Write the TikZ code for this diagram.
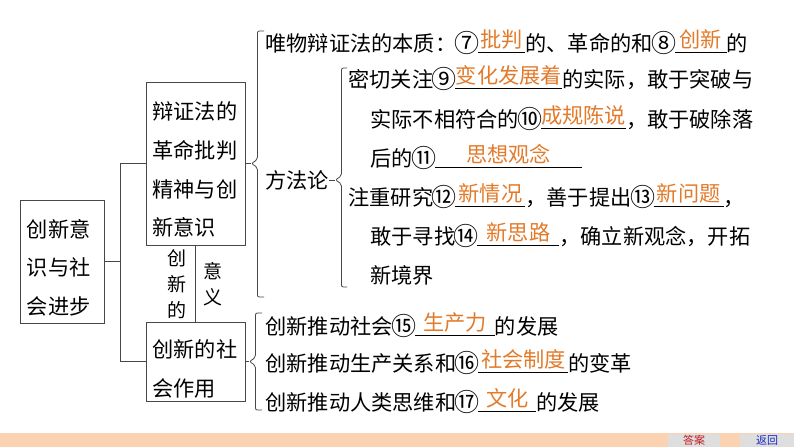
\documentclass[tikz,border=0pt]{standalone}
\usepackage{fontspec}
\setmainfont{Noto Sans CJK SC}
\usepackage{xcolor}
\definecolor{colorAnswer}{RGB}{226,122,42}
\colorlet{colorLine}{black!72}
\definecolor{colorBar}{RGB}{252,211,178}
\definecolor{colorButton}{RGB}{222,222,222}
\definecolor{colorBtnRed}{RGB}{196,28,28}
\definecolor{colorBtnBlue}{RGB}{24,40,196}
\usetikzlibrary{positioning, calc}
\newcommand{\mainsize}{\fontsize{21.2pt}{38.7pt}\selectfont}
\newcommand{\labelsize}{\fontsize{19pt}{26pt}\selectfont}
\newcommand{\btnsize}{\fontsize{11pt}{13pt}\selectfont}
\newcommand{\cnum}[1]{\makebox[1.05em]{\raisebox{-0.08em}{\scalebox{1.18}{#1}}}}
\newcommand{\ans}[2]{\rlap{\rule[-1.6pt]{#1pt}{0.6pt}}\makebox[#1pt]{\raisebox{3.5pt}{\textcolor{colorAnswer}{#2}}}}
\newcommand{\boxlines}[3]{\raisebox{#1}[\height][\depth]{\begin{tabular}{@{}p{#2}@{}}#3\end{tabular}}}

\begin{document}
\begin{tikzpicture}[x=1pt, y=-1pt, line width=0.8pt, colorLine,
  every node/.style={font=\mainsize, inner sep=0pt, text=black},
  box/.style={draw=colorLine, line width=0.8pt},
  txt/.style={anchor=base west},
  vlabel/.style={font=\labelsize, align=center},
  button/.style={fill=colorButton, minimum width=#1, minimum height=13pt, font=\btnsize}]
\useasboundingbox (0,0) rectangle (794,447);
\fill[colorBar] (0,433) rectangle (794,447);
\node[button=52pt, text=colorBtnRed] (answer) at (694,440.5) {答案};
\node[button=54pt, text=colorBtnBlue] (back) at (767,440.5) {返回};

% boxes
\node[box, minimum width=84pt, minimum height=123pt] (topic) at (62,261.5) {\boxlines{-6.5pt}{70pt}{创新意\\识与社\\会进步}};
\node[box, minimum width=99pt, minimum height=163pt] (dialectic) at (195.5,163.5) {\boxlines{-6.5pt}{86pt}{辩证法的\\革命批判\\精神与创\\新意识}};
\node[box, minimum width=99pt, minimum height=79pt] (roles) at (195.5,361.5) {\boxlines{-8pt}{86pt}{创新的社\\会作用}};

% tree
\coordinate (trunk) at (120,0);
\draw (topic.east) -- (topic.east -| trunk);
\draw (dialectic.west) -- (dialectic.west -| trunk) -- (roles.west -| trunk) -- (roles.west);
\draw (dialectic.south) -- (roles.north);
\node[vlabel] (meaningA) at (177,284.5) {创\\新\\的};
\node[vlabel] (meaningB) at (213,284) {意\\义};

% dialectic branch
\node[txt] (essence) at (265,51) {唯物辩证法的本质：\cnum{⑦}\ans{47}{批判}的、革命的和\cnum{⑧}\ans{52}{创新}的};
\node[txt] (method) at (265,188) {方法论};
\draw (dialectic.east) -- ++(6,0) coordinate (tipA);
\draw[rounded corners=2pt] (264,31) -| ($(tipA)+(6,-4)$) -- (tipA) -- ($(tipA)+(6,4)$) |- (264,297);

% method branch
\node[txt] (watch) at (348,87) {密切关注\cnum{⑨}\ans{107}{变化发展着}的实际，敢于突破与};
\node[txt] (watch2) at (370,127) {实际不相符合的\cnum{⑩}\ans{85}{成规陈说}，敢于破除落};
\node[txt] (watch3) at (370,166) {后的\cnum{⑪}\ans{147}{思想观念}};
\node[txt] (study) at (348,205) {注重研究\cnum{⑫}\ans{70}{新情况}，善于提出\cnum{⑬}\ans{70}{新问题}，};
\node[txt] (study2) at (370,244) {敢于寻找\cnum{⑭}\ans{82}{新思路}，确立新观念，开拓};
\node[txt] (study3) at (370,283) {新境界};
\draw (method.east) -- ++(6,0) coordinate (tipB);
\draw[rounded corners=2pt] (347,68) -| ($(tipB)+(6,-4)$) -- (tipB) -- ($(tipB)+(6,4)$) |- (347,287);

% roles branch
\node[txt] (force) at (265,334) {创新推动社会\cnum{⑮}\ans{80}{生产力}的发展};
\node[txt] (system) at (265,371) {创新推动生产关系和\cnum{⑯}\ans{90}{社会制度}的变革};
\node[txt] (culture) at (265,410) {创新推动人类思维和\cnum{⑰}\ans{58}{文化}的发展};
\draw (roles.east) -- ++(4,0) coordinate (tipC);
\draw[rounded corners=2pt] (262,313) -| ($(tipC)+(6,-4)$) -- (tipC) -- ($(tipC)+(6,4)$) |- (262,410);
\end{tikzpicture}
\end{document}
